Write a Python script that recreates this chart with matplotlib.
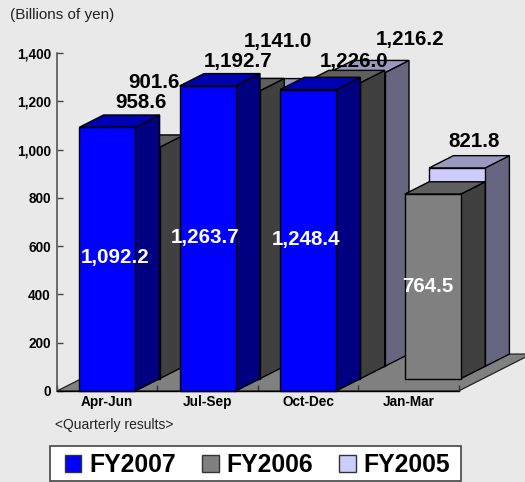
import matplotlib
matplotlib.use('Agg')
import matplotlib.pyplot as plt
from matplotlib.patches import Polygon, Patch, Rectangle

plt.rcParams['font.family'] = ['Liberation Sans', 'DejaVu Sans']

quarters = ['Apr-Jun', 'Jul-Sep', 'Oct-Dec', 'Jan-Mar']
fy2007 = [1092.2, 1263.7, 1248.4, None]
fy2006 = [958.6, 1192.7, 1226.0, 764.5]
fy2005 = [901.6, 1141.0, 1216.2, 821.8]
yticks = [0, 200, 400, 600, 800, 1000, 1200, 1400]

# front, top, side
colors_2007 = ('#0000ff', '#0000b3', '#000080')
colors_2006 = ('#808080', '#5f5f5f', '#404040')
colors_2005 = ('#ccccff', '#9999bf', '#666680')

W, H = 525, 482
BG = '#e9e9e9'
BAR_X = 0.222
BAR_W = 0.558
DX = 0.242   # depth per series, in categories
DY = 51.0    # depth per series, in value units

fig = plt.figure(figsize=(W / 100, H / 100), dpi=100, facecolor=BG)
ax = fig.add_axes([57 / W, (H - 391) / H, 401.6 / W, 338 / H], facecolor='none')
ax.set_xlim(0, 4)
ax.set_ylim(0, 1400)
ax.set_axisbelow(True)


def px(x, y):
    return x / W, 1 - y / H


def draw_bar(i, val, k, cols):
    x0 = i + BAR_X + k * DX
    x1 = x0 + BAR_W
    y0 = k * DY
    y1 = y0 + val
    faces = [
        ([(x1, y0), (x1 + DX, y0 + DY), (x1 + DX, y1 + DY), (x1, y1)], cols[2]),
        ([(x0, y1), (x1, y1), (x1 + DX, y1 + DY), (x0 + DX, y1 + DY)], cols[1]),
        ([(x0, y0), (x1, y0), (x1, y1), (x0, y1)], cols[0]),
    ]
    for pts, c in faces:
        ax.add_patch(Polygon(pts, closed=True, facecolor=c, edgecolor='black',
                             linewidth=1.0, zorder=3 + (2 - k) + i * 0.01, clip_on=False))


# suelo
ax.add_patch(Polygon([(0, 0), (4, 0), (4 + 3 * DX, 3 * DY), (3 * DX, 3 * DY)], closed=True,
                     facecolor='#808080', edgecolor='#222222', linewidth=0.9,
                     zorder=0.1, clip_on=False))

for i in range(4):
    draw_bar(i, fy2005[i], 2, colors_2005)
    draw_bar(i, fy2006[i], 1, colors_2006)
    if fy2007[i] is not None:
        draw_bar(i, fy2007[i], 0, colors_2007)

for s in ['top', 'right']:
    ax.spines[s].set_visible(False)
ax.spines['left'].set_color('#555555')
ax.spines['left'].set_linewidth(1.2)
ax.spines['bottom'].set_color('black')
ax.spines['bottom'].set_linewidth(1.0)

ax.set_yticks(yticks)
ax.set_yticklabels([f'{v:,}' for v in yticks], fontsize=9.8, fontweight='bold')
ax.set_xticks(range(5))
ax.set_xticklabels([])
ax.set_xticks([i + 0.5 for i in range(4)], minor=True)
ax.set_xticklabels(quarters, minor=True, fontsize=9.8, fontweight='bold')
ax.tick_params(axis='y', direction='in', length=4.5, width=1.0, color='#444444', pad=4.5)
ax.tick_params(axis='x', which='major', direction='in', length=4.5, width=1.0, color='#333333')
ax.tick_params(axis='x', which='minor', length=0, pad=3)

# etiquetas de valores
top_labels = ['958.6', '901.6', '1,192.7', '1,141.0', '1,226.0', '1,216.2', '821.8']
top_pos = [(140.5, 103), (153.5, 82), (238, 61), (278, 41), (354, 62), (410.5, 40), (474.5, 141)]
for t, p in zip(top_labels, top_pos):
    fig.text(*px(*p), t, ha='center', va='center', fontsize=14.8, fontweight='bold',
             color='black', zorder=10)

in_labels = ['1,092.2', '1,263.7', '1,248.4', '764.5']
in_pos = [(115, 258), (205.5, 238), (306, 239), (428, 286)]
for t, p in zip(in_labels, in_pos):
    fig.text(*px(*p), t, ha='center', va='center', fontsize=14.8, fontweight='bold',
             color='white', zorder=10)

fig.text(*px(10, 15), '(Billions of yen)', ha='left', va='center', fontsize=11, color='#222222')
fig.text(*px(55, 425.5), '<Quarterly results>', ha='left', va='center', fontsize=10, color='#222222')

# marco de la leyenda
fig.add_artist(Rectangle(px(49.5, 481), (461 - 49.5) / W, (481 - 445.7) / H,
                         transform=fig.transFigure, facecolor='white',
                         edgecolor='#444444', linewidth=1.2, zorder=5))

handles = [Patch(facecolor=colors_2007[0], edgecolor='#333333', label='FY2007'),
           Patch(facecolor=colors_2006[0], edgecolor='#333333', label='FY2006'),
           Patch(facecolor=colors_2005[0], edgecolor='#333333', label='FY2005')]
leg = fig.legend(handles=handles, loc='center', bbox_to_anchor=px(257.5, 465.5), ncol=3,
                 prop={'size': 17.8, 'weight': 'bold'}, frameon=False,
                 handlelength=0.68, handleheight=0.68,
                 handletextpad=0.33, columnspacing=1.03, borderpad=0, borderaxespad=0)
leg.set_zorder(6)

fig.savefig('out.png', dpi=100, facecolor=BG)
